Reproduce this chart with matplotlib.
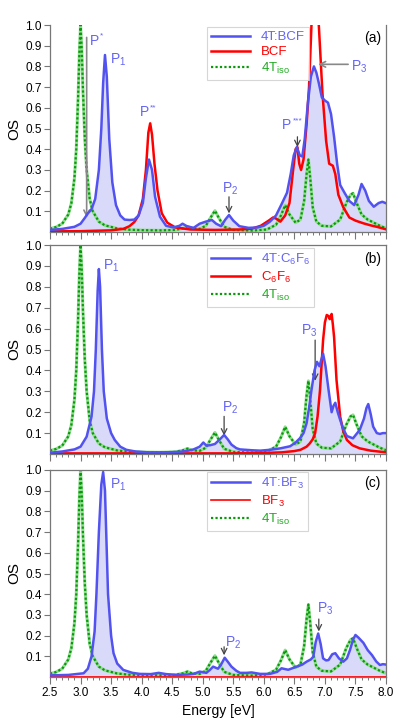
import matplotlib
matplotlib.use("Agg")
import matplotlib.pyplot as plt
from matplotlib.ticker import MultipleLocator, FixedLocator, NullFormatter

plt.rcParams['font.family'] = ['Liberation Sans', 'DejaVu Sans']
plt.rcParams['mathtext.fontset'] = 'custom'
plt.rcParams['mathtext.rm'] = 'Liberation Sans'
plt.rcParams['mathtext.it'] = 'Liberation Sans'
plt.rcParams['mathtext.bf'] = 'Liberation Sans'

# ---------------- data ----------------
# isolated 4T (same in all panels)
iso_E = [2.5, 2.6, 2.7, 2.8, 2.85, 2.9, 2.93, 2.96, 2.98, 3.0, 3.02, 3.04, 3.07, 3.1, 3.15, 3.2, 3.3, 3.4,
         3.6, 3.8, 4.0, 4.3, 4.55, 4.68, 4.75, 4.82, 4.95, 5.05, 5.13, 5.2, 5.26, 5.35, 5.5, 5.8, 6.05,
         6.2, 6.28, 6.35, 6.42, 6.52, 6.6, 6.66, 6.7, 6.73, 6.76, 6.8, 6.86, 6.95, 7.1, 7.25, 7.35, 7.42,
         7.46, 7.52, 7.6, 7.7, 7.8, 7.9, 8.0]
iso_OS = [0.016, 0.024, 0.04, 0.085, 0.14, 0.26, 0.4, 0.65, 0.86, 1.0, 0.88, 0.68, 0.45, 0.3, 0.16, 0.1, 0.05,
          0.032, 0.017, 0.011, 0.009, 0.008, 0.01, 0.018, 0.026, 0.018, 0.015, 0.03, 0.07, 0.103, 0.07, 0.025,
          0.01, 0.007, 0.012, 0.035, 0.08, 0.13, 0.085, 0.045, 0.06, 0.15, 0.28, 0.35, 0.26, 0.12, 0.05, 0.03,
          0.027, 0.06, 0.14, 0.18, 0.187, 0.14, 0.085, 0.06, 0.045, 0.03, 0.018]

# panel (a): 4T:BCF and BCF
bcf_cx_E = [2.5, 2.7, 2.9, 3.0, 3.07, 3.12, 3.18, 3.24, 3.3, 3.34, 3.37, 3.4, 3.43, 3.47, 3.52, 3.58, 3.65,
            3.72, 3.8, 3.88, 3.95, 4.02, 4.07, 4.12, 4.17, 4.22, 4.3, 4.4, 4.52, 4.62, 4.67, 4.74, 4.85, 4.95,
            5.05, 5.15, 5.22, 5.3, 5.37, 5.43, 5.5, 5.6, 5.75, 5.9, 6.0, 6.1, 6.2, 6.3, 6.38, 6.44, 6.49, 6.54,
            6.59, 6.63, 6.67, 6.72, 6.77, 6.82, 6.86, 6.9, 6.95, 7.0, 7.05, 7.1, 7.15, 7.2, 7.25, 7.32, 7.4,
            7.48, 7.55, 7.6, 7.66, 7.72, 7.8, 7.88, 7.94, 8.0]
bcf_cx_OS = [0.01, 0.015, 0.025, 0.04, 0.068, 0.09, 0.11, 0.16, 0.3, 0.5, 0.72, 0.855, 0.75, 0.45, 0.24, 0.13,
             0.08, 0.06, 0.058, 0.06, 0.08, 0.14, 0.26, 0.35, 0.3, 0.17, 0.074, 0.03, 0.022, 0.03, 0.04, 0.028,
             0.02, 0.04, 0.05, 0.058, 0.04, 0.028, 0.06, 0.082, 0.055, 0.028, 0.02, 0.022, 0.03, 0.05, 0.08,
             0.14, 0.19, 0.28, 0.37, 0.41, 0.37, 0.365, 0.45, 0.62, 0.75, 0.80, 0.77, 0.72, 0.65, 0.635, 0.625,
             0.57, 0.46, 0.33, 0.227, 0.19, 0.15, 0.13, 0.18, 0.232, 0.2, 0.15, 0.122, 0.14, 0.146, 0.139]
bcf_E = [2.5, 3.0, 3.5, 3.7, 3.8, 3.88, 3.95, 4.02, 4.07, 4.11, 4.14, 4.17, 4.21, 4.26, 4.33, 4.42, 4.55, 4.8,
         5.2, 5.6, 5.8, 5.95, 6.08, 6.15, 6.2, 6.27, 6.35, 6.42, 6.48, 6.52, 6.55, 6.58, 6.61, 6.65, 6.7, 6.74,
         6.78, 6.84, 6.9, 6.96, 7.02, 7.07, 7.13, 7.17, 7.22, 7.3, 7.4, 7.5, 7.63, 7.75, 7.85, 8.0]
bcf_OS = [0.003, 0.004, 0.008, 0.015, 0.028, 0.048, 0.08, 0.16, 0.3, 0.48, 0.525, 0.47, 0.33, 0.2, 0.09, 0.045,
          0.022, 0.012, 0.01, 0.012, 0.016, 0.03, 0.055, 0.07, 0.065, 0.05, 0.08, 0.14, 0.3, 0.4, 0.41, 0.33, 0.3,
          0.35, 0.52, 0.7, 1.0, 1.35, 1.0, 0.67, 0.44, 0.33, 0.32, 0.28, 0.18, 0.12, 0.07, 0.055, 0.042, 0.032,
          0.025, 0.013]

# panel (b): 4T:C6F6 and C6F6
c6f6_cx_E = [2.5, 2.7, 2.9, 3.0, 3.1, 3.18, 3.22, 3.25, 3.28, 3.3, 3.32, 3.35, 3.38, 3.43, 3.5, 3.56, 3.65, 3.75,
             3.9, 4.1, 4.4, 4.6, 4.75, 4.85, 4.95, 5.01, 5.06, 5.12, 5.2, 5.28, 5.35, 5.41, 5.47, 5.55, 5.61, 5.8,
             5.94, 6.1, 6.27, 6.43, 6.52, 6.59, 6.65, 6.7, 6.74, 6.78, 6.83, 6.87, 6.91, 6.94, 6.97, 7.01, 7.06,
             7.11, 7.14, 7.17, 7.21, 7.25, 7.3, 7.36, 7.46, 7.57, 7.64, 7.68, 7.71, 7.75, 7.79, 7.85, 7.9, 7.95, 8.0]
c6f6_cx_OS = [0.006, 0.012, 0.022, 0.035, 0.083, 0.179, 0.3, 0.5, 0.78, 0.885, 0.8, 0.5, 0.3, 0.17, 0.1, 0.067,
              0.035, 0.02, 0.012, 0.008, 0.008, 0.01, 0.015, 0.022, 0.035, 0.055, 0.04, 0.042, 0.048, 0.07, 0.091,
              0.07, 0.045, 0.028, 0.022, 0.018, 0.016, 0.02, 0.027, 0.037, 0.055, 0.075, 0.1, 0.147, 0.22, 0.306,
              0.4, 0.441, 0.42, 0.45, 0.48, 0.42, 0.306, 0.2, 0.23, 0.245, 0.2, 0.163, 0.12, 0.086, 0.075, 0.115,
              0.17, 0.22, 0.239, 0.19, 0.131, 0.1, 0.096, 0.1, 0.1]
c6f6_E = [2.5, 5.5, 6.0, 6.3, 6.5, 6.6, 6.7, 6.75, 6.8, 6.84, 6.88, 6.92, 6.95, 6.97, 7.0, 7.03, 7.06, 7.08, 7.11,
          7.13, 7.15, 7.19, 7.25, 7.3, 7.36, 7.45, 7.57, 7.75, 8.0]
c6f6_OS = [0.003, 0.003, 0.005, 0.008, 0.014, 0.02, 0.035, 0.05, 0.07, 0.1, 0.18, 0.306, 0.45, 0.545, 0.63, 0.665,
           0.66, 0.645, 0.67, 0.62, 0.56, 0.354, 0.179, 0.11, 0.067, 0.042, 0.027, 0.016, 0.008]

# panel (c): 4T:BF3 and BF3
bf3_cx_E = [2.5, 2.8, 3.05, 3.12, 3.18, 3.23, 3.26, 3.3, 3.34, 3.37, 3.4, 3.42, 3.45, 3.5, 3.54, 3.6, 3.7, 3.85,
            3.97, 4.15, 4.28, 4.4, 4.57, 4.75, 4.85, 4.95, 5.06, 5.12, 5.17, 5.25, 5.3, 5.36, 5.42, 5.47, 5.55,
            5.61, 5.72, 5.8, 5.94, 6.1, 6.22, 6.29, 6.35, 6.4, 6.54, 6.63, 6.7, 6.77, 6.81, 6.85, 6.89, 6.93,
            6.97, 7.02, 7.06, 7.12, 7.17, 7.23, 7.3, 7.36, 7.41, 7.46, 7.5, 7.55, 7.63, 7.7, 7.77, 7.84, 7.9,
            7.95, 8.0]
bf3_cx_OS = [0.008, 0.01, 0.018, 0.04, 0.1, 0.22, 0.4, 0.7, 0.93, 0.99, 0.9, 0.7, 0.4, 0.2, 0.115, 0.065, 0.034,
             0.02, 0.015, 0.014, 0.02, 0.014, 0.01, 0.012, 0.015, 0.026, 0.02, 0.035, 0.05, 0.04, 0.06, 0.093,
             0.07, 0.05, 0.03, 0.02, 0.02, 0.022, 0.015, 0.015, 0.025, 0.042, 0.038, 0.035, 0.05, 0.06, 0.074,
             0.085, 0.098, 0.17, 0.21, 0.16, 0.09, 0.08, 0.082, 0.11, 0.115, 0.09, 0.074, 0.09, 0.13, 0.18, 0.203,
             0.19, 0.165, 0.13, 0.106, 0.075, 0.058, 0.062, 0.06]
bf3_E = [2.5, 8.0]
bf3_OS = [0.0, 0.0]

labels_cx = ["4T:BCF", "4T:C$_6$F$_6$", "4T:BF$_3$"]
labels_acc = ["BCF", "C$_6$F$_6$", "BF$_3$"]
label_iso = "4T$_{\\rm iso}$"
panel_tags = ["(a)", "(b)", "(c)"]
yticks = [0.1, 0.2, 0.3, 0.4, 0.5, 0.6, 0.7, 0.8, 0.9, 1.0]
xticks = [2.5, 3.0, 3.5, 4.0, 4.5, 5.0, 5.5, 6.0, 6.5, 7.0, 7.5, 8.0]

cx_data = [(bcf_cx_E, bcf_cx_OS), (c6f6_cx_E, c6f6_cx_OS), (bf3_cx_E, bf3_cx_OS)]
acc_data = [(bcf_E, bcf_OS), (c6f6_E, c6f6_OS), (bf3_E, bf3_OS)]

# ---------------- styles ----------------
BLUE = '#5252f0'
BLUE_TXT = '#6464f5'
FILL = '#d9d9f9'
RED = '#ff0000'
GREEN_D = '#0a990a'
GREEN_L = '#90dd90'
SPINE = '#777777'

fig = plt.figure(figsize=(3.99, 7.24), dpi=100)
W = 399.0
H = 724.0
left = 50 / W
width = 336 / W
boxes = [(25, 232), (245, 454), (470, 677)]
axes = []
for (top, bot) in boxes:
    ax = fig.add_axes([left, 1 - bot / H, width, (bot - top) / H])
    axes.append(ax)

for i, ax in enumerate(axes):
    E, OS = cx_data[i]
    aE, aOS = acc_data[i]
    ax.fill_between(E, 0, OS, color=FILL, lw=0, zorder=1)
    ax.plot(iso_E, iso_OS, color=GREEN_L, lw=2.2, zorder=2, solid_capstyle='butt')
    lg, = ax.plot(iso_E, iso_OS, color=GREEN_D, lw=1.6, ls=(0, (1, 1)), zorder=2.1)
    la, = ax.plot(aE, aOS, color=RED, lw=1.8 if i < 2 else 1.2, zorder=3)
    lb, = ax.plot(E, OS, color=BLUE, lw=1.8, zorder=4)
    ax.set_xlim(2.5, 8.0)
    ax.set_ylim(0, 1.0)
    ax.xaxis.set_major_locator(FixedLocator(xticks))
    ax.xaxis.set_minor_locator(MultipleLocator(0.1))
    ax.yaxis.set_major_locator(FixedLocator(yticks))
    ax.set_yticklabels([f"{v:.1f}" for v in yticks])
    ax.tick_params(axis='both', which='major', direction='out', length=4, width=0.8,
                   color=SPINE, labelsize=8.5, pad=2)
    ax.tick_params(axis='x', which='major', length=5)
    ax.tick_params(axis='x', which='minor', direction='out', length=2.5, width=0.7, color=SPINE)
    for s in ax.spines.values():
        s.set_color(SPINE)
        s.set_linewidth(0.9)
    if i == 0:
        ax.spines['top'].set_visible(False)
    if i < 2:
        ax.xaxis.set_major_formatter(NullFormatter())
    else:
        ax.set_xticklabels([f"{v:.1f}" for v in xticks])
        ax.set_xlabel("Energy [eV]", fontsize=10, labelpad=4)
    ax.set_ylabel("OS", fontsize=11, labelpad=3)
    leg = ax.legend([lb, la, lg], [labels_cx[i], labels_acc[i], label_iso], loc='upper left',
                    bbox_to_anchor=(0.467, 0.99 if i != 1 else 0.985), fontsize=9.5, frameon=True, fancybox=False,
                    handlelength=3.0, handletextpad=0.8, borderpad=0.3, labelspacing=0.2, borderaxespad=0)
    leg.get_frame().set_edgecolor('#cccccc')
    leg.get_frame().set_linewidth(0.8)
    for t, c in zip(leg.get_texts(), [BLUE_TXT, RED, '#22aa22']):
        t.set_color(c)
    ax.text(0.985, 0.935, panel_tags[i], transform=ax.transAxes, ha='right', va='center', fontsize=10)

apx = dict(arrowstyle='->', color='#888888', lw=1.2, shrinkA=0, shrinkB=0)
apk = dict(arrowstyle='->', color='#444444', lw=0.9, shrinkA=0, shrinkB=0)
tk = dict(color=BLUE_TXT, fontsize=10)


def plabel(ax, x, y, sup, ha='left'):
    t = ax.text(x, y, "P", ha=ha, va='center', **tk)
    ax.annotate(sup, xy=(x, y), xycoords='data', xytext=(7.5 if ha == 'left' else 4, 3),
                textcoords='offset points', ha='left', va='center', color=BLUE_TXT, fontsize=6)
    return t


# panel (a) annotations
ax = axes[0]
ax.annotate("", xy=(3.1, 0.07), xytext=(3.1, 0.94), arrowprops=apx)
plabel(ax, 3.15, 0.925, "*")
ax.text(3.48, 0.83, "P$_1$", ha='left', va='center', **tk)
plabel(ax, 3.97, 0.58, "**")
ax.annotate("", xy=(5.43, 0.09), xytext=(5.43, 0.17), arrowprops=apk)
ax.text(5.45, 0.21, "P$_2$", ha='center', va='center', **tk)
ax.annotate("", xy=(6.55, 0.41), xytext=(6.55, 0.46), arrowprops=apk)
plabel(ax, 6.3, 0.515, "***")
ax.annotate("", xy=(6.89, 0.81), xytext=(7.38, 0.81), arrowprops=apx)
ax.text(7.42, 0.8, "P$_3$", ha='left', va='center', **tk)

# panel (b)
ax = axes[1]
ax.text(3.37, 0.9, "P$_1$", ha='left', va='center', **tk)
ax.annotate("", xy=(5.35, 0.088), xytext=(5.35, 0.18), arrowprops=apk)
ax.text(5.45, 0.22, "P$_2$", ha='center', va='center', **tk)
ax.annotate("", xy=(6.84, 0.35), xytext=(6.84, 0.545), arrowprops=apk)
ax.text(6.75, 0.59, "P$_3$", ha='center', va='center', **tk)

# panel (c)
ax = axes[2]
ax.text(3.48, 0.93, "P$_1$", ha='left', va='center', **tk)
ax.annotate("", xy=(5.35, 0.105), xytext=(5.35, 0.146), arrowprops=apk)
ax.text(5.5, 0.165, "P$_2$", ha='center', va='center', **tk)
ax.annotate("", xy=(6.9, 0.22), xytext=(6.9, 0.28), arrowprops=apk)
ax.text(7.0, 0.33, "P$_3$", ha='center', va='center', **tk)

fig.savefig("out.png", dpi=100)
